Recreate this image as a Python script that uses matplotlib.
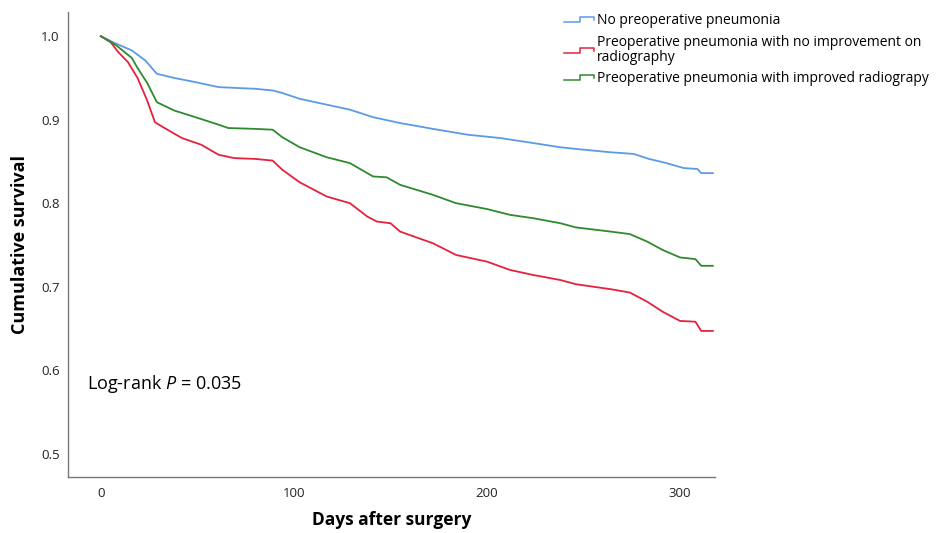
import numpy as np
import matplotlib
matplotlib.use("Agg")
import matplotlib.pyplot as plt
from matplotlib.lines import Line2D
from matplotlib.legend_handler import HandlerBase

plt.rcParams['font.family'] = ['Open Sans', 'DejaVu Sans']
plt.rcParams['mathtext.fontset'] = 'custom'
plt.rcParams['mathtext.rm'] = 'Open Sans'
plt.rcParams['mathtext.it'] = 'Open Sans:italic'

# days / survival
blue_days = [0, 7, 16, 23, 29, 38, 49, 61, 80, 89, 94, 103, 117, 129, 141, 155, 172,
             190, 207, 224, 238, 246, 264, 276, 284, 293, 302, 309, 311, 317]
blue_surv = [1.0, 0.992, 0.983, 0.971, 0.955, 0.950, 0.945, 0.939, 0.937, 0.935, 0.932,
             0.925, 0.918, 0.912, 0.903, 0.896, 0.889, 0.882, 0.878, 0.872, 0.867, 0.865,
             0.861, 0.859, 0.853, 0.848, 0.842, 0.841, 0.836, 0.836]

red_days = [0, 5, 9, 14, 19, 24, 28, 33, 42, 52, 61, 69, 80, 89, 94, 103, 117, 129, 138,
            143, 150, 155, 172, 184, 200, 212, 224, 238, 246, 264, 274, 283, 291, 300,
            308, 311, 317]
red_surv = [1.0, 0.993, 0.981, 0.969, 0.950, 0.923, 0.897, 0.890, 0.878, 0.870, 0.858,
            0.854, 0.853, 0.851, 0.840, 0.825, 0.808, 0.800, 0.784, 0.778, 0.776, 0.766,
            0.752, 0.738, 0.730, 0.720, 0.714, 0.708, 0.703, 0.697, 0.693, 0.682, 0.670,
            0.659, 0.658, 0.647, 0.647]

green_days = [0, 8, 16, 19, 24, 29, 38, 49, 61, 66, 80, 89, 94, 103, 117, 129, 141, 148,
              155, 172, 184, 200, 212, 224, 238, 246, 264, 274, 283, 291, 300, 308, 311, 317]
green_surv = [1.0, 0.989, 0.974, 0.962, 0.944, 0.921, 0.911, 0.903, 0.894, 0.890, 0.889,
              0.888, 0.879, 0.867, 0.855, 0.848, 0.832, 0.831, 0.822, 0.810, 0.800, 0.793,
              0.786, 0.782, 0.776, 0.771, 0.766, 0.763, 0.754, 0.744, 0.735, 0.733, 0.725,
              0.725]

labels = ["No preoperative pneumonia",
          "Preoperative pneumonia with no improvement on\nradiography",
          "Preoperative pneumonia with improved radiograpy"]
colors = ["#5b9be6", "#e5213f", "#2f8a2f"]


class StepHandler(HandlerBase):
    def create_artists(self, legend, orig_handle, xdescent, ydescent, width, height,
                       fontsize, trans):
        xs = np.array([0, 0.5, 0.5, 0.93, 0.93]) * width - xdescent
        ys = np.array([0.2, 0.2, 0.75, 0.75, 0.45]) * height - ydescent
        ln = Line2D(xs, ys, color=orig_handle.get_color(), lw=1.1)
        ln.set_transform(trans)
        return [ln]


fig = plt.figure(figsize=(9.53, 5.33), dpi=100)
ax = fig.add_axes([0.0714, 0.105, 0.6786, 0.8725])

handles = []
for d, s, c in zip([blue_days, red_days, green_days],
                   [blue_surv, red_surv, green_surv], colors):
    h, = ax.plot(d, s, color=c, lw=1.3)
    handles.append(h)

ax.set_xlim(-17, 318)
ax.set_ylim(0.472, 1.029)
ax.set_xticks([0, 100, 200, 300])
ax.set_yticks([0.5, 0.6, 0.7, 0.8, 0.9, 1.0])
ax.tick_params(length=0, labelsize=9.5, colors='#222222')
ax.tick_params(axis='x', pad=7)
ax.tick_params(axis='y', pad=6)
for sp in ['top', 'right']:
    ax.spines[sp].set_visible(False)
for sp in ['left', 'bottom']:
    ax.spines[sp].set_color('#777777')
    ax.spines[sp].set_linewidth(1.0)

ax.set_xlabel("Days after surgery", fontsize=12.5, fontweight='bold', labelpad=8)
ax.set_ylabel("Cumulative survival", fontsize=13, fontweight='bold', labelpad=9)

ax.text(-7, 0.584, "Log-rank $P$ = 0.035", fontsize=13, ha='left', va='center')

leg = fig.legend(handles, labels, loc='upper left', bbox_to_anchor=(0.585, 0.988),
                 frameon=False, fontsize=10, handlelength=2.3, handletextpad=0.05,
                 borderpad=0, labelspacing=0.45,
                 handler_map={Line2D: StepHandler()})
for t in leg.get_texts():
    t.set_linespacing(1.05)

fig.savefig("out.png", dpi=100)
